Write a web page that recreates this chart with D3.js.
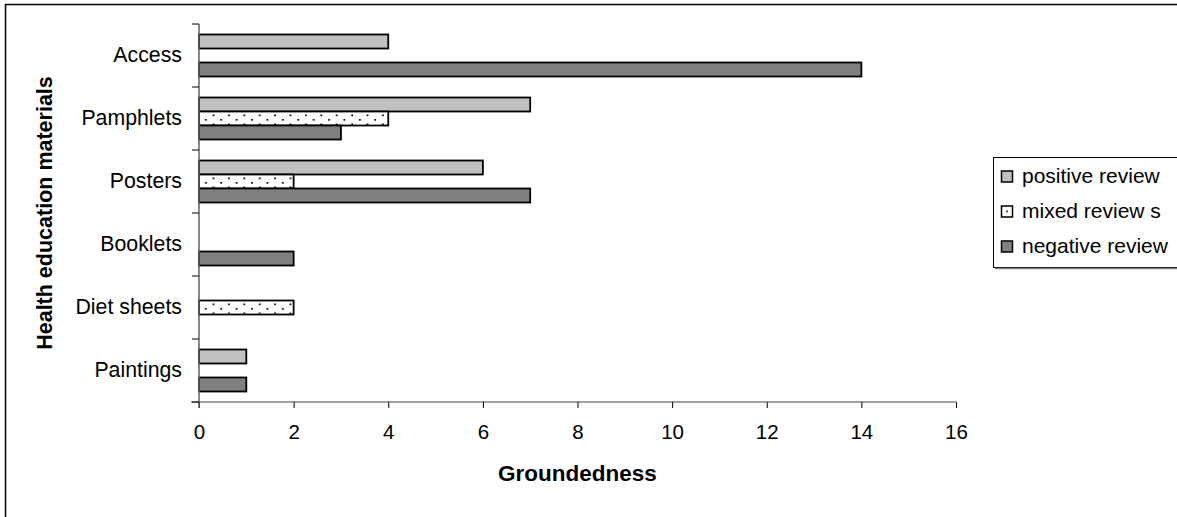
<!DOCTYPE html>
<html>
<head>
<meta charset="utf-8">
<script src="https://cdn.jsdelivr.net/npm/d3@7"></script>
<style>
  html, body { margin: 0; padding: 0; background: #fff; }
  svg { display: block; font-family: "Liberation Sans", Arial, sans-serif; }
</style>
</head>
<body>
<svg id="chart" width="1177" height="517"></svg>
<script>
// Categories, top to bottom
const categories = ["Access", "Pamphlets", "Posters", "Booklets", "Diet sheets", "Paintings"];
// Series (counts per category)
const positiveReview = [4, 7, 6, 0, 0, 1];
const mixedReviews   = [0, 4, 2, 0, 2, 0];
const negativeReview = [14, 3, 7, 2, 0, 1];
const seriesNames = ["positive review", "mixed review s", "negative review"];
const xTicks = [0, 2, 4, 6, 8, 10, 12, 14, 16];

const series = [positiveReview, mixedReviews, negativeReview];
const fills = ["#C0C0C0", "url(#dots)", "#808080"];

const svg = d3.select("#chart");

// dotted fill for mixed reviews
const defs = svg.append("defs");
const pat = defs.append("pattern").attr("id", "dots")
  .attr("patternUnits", "userSpaceOnUse").attr("width", 15.4).attr("height", 9)
  .attr("x", 199).attr("y", 0);
pat.append("rect").attr("width", 15.4).attr("height", 9).attr("fill", "#fff");
pat.append("rect").attr("x", 6).attr("y", 2).attr("width", 1.7).attr("height", 1.7).attr("fill", "#000");
pat.append("rect").attr("x", 13.7).attr("y", 6.5).attr("width", 1.7).attr("height", 1.7).attr("fill", "#000");

// outer chart frame
svg.append("rect").attr("x", 5.5).attr("y", 4.5).attr("width", 1180).attr("height", 520)
  .attr("fill", "none").attr("stroke", "#000").attr("stroke-width", 1.5);

const plot = { left: 199, right: 956, top: 24, bottom: 402 };

const x = d3.scaleLinear().domain([0, 16]).range([plot.left, plot.right]);
const y = d3.scaleBand().domain(categories).range([plot.top, plot.bottom])
  .paddingInner(1 / 3).paddingOuter(1 / 6);
const ySub = d3.scaleBand().domain(d3.range(series.length)).range([0, y.bandwidth()]);

// bars
const g = svg.append("g");
categories.forEach((c, i) => {
  series.forEach((s, k) => {
    if (s[i] <= 0) return;
    g.append("rect")
      .attr("x", x(0))
      .attr("y", y(c) + ySub(k))
      .attr("width", x(s[i]) - x(0))
      .attr("height", ySub.bandwidth())
      .attr("fill", fills[k])
      .attr("stroke", "#000")
      .attr("stroke-width", 1.8);
  });
});

// x axis
const xAxis = svg.append("g").attr("transform", `translate(0,${plot.bottom})`)
  .call(d3.axisBottom(x).tickValues(xTicks).tickSize(6).tickSizeOuter(0).tickPadding(0));
xAxis.select(".domain").attr("stroke", "#808080").attr("stroke-width", 1.5)
  .attr("d", `M${plot.left - 8},0H${plot.right}`);
xAxis.selectAll(".tick line").attr("stroke", "#000");
xAxis.selectAll(".tick text").attr("font-size", 20.5).attr("fill", "#000")
  .attr("dy", null).attr("y", 37);

// y axis: ticks at category boundaries
const yAxis = svg.append("g");
yAxis.append("line").attr("x1", plot.left).attr("x2", plot.left)
  .attr("y1", plot.top).attr("y2", plot.bottom + 6)
  .attr("stroke", "#606060").attr("stroke-width", 1.5);
const bounds = categories.map(c => y(c) - y.step() * y.paddingInner() / 2).concat([plot.bottom]);
yAxis.selectAll(".yt").data(bounds).join("line")
  .attr("x1", plot.left - 7).attr("x2", plot.left)
  .attr("y1", d => d).attr("y2", d => d)
  .attr("stroke", "#000").attr("stroke-width", 1);
yAxis.selectAll(".yl").data(categories).join("text")
  .attr("x", 182).attr("y", d => y(d) + y.bandwidth() / 2 + 6.5)
  .attr("text-anchor", "end")
  .attr("font-size", 21.3).attr("fill", "#000").text(d => d);

// axis titles
svg.append("text").attr("x", (plot.left + plot.right) / 2).attr("y", 481)
  .attr("text-anchor", "middle").attr("font-size", 22.5).attr("font-weight", "bold")
  .text("Groundedness");
svg.append("text")
  .attr("transform", `translate(52,${(plot.top + plot.bottom) / 2}) rotate(-90)`)
  .attr("text-anchor", "middle").attr("font-size", 21.5).attr("font-weight", "bold")
  .text("Health education materials");

// legend
const lg = svg.append("g");
lg.append("rect").attr("x", 993.5).attr("y", 157.5).attr("width", 190).attr("height", 110)
  .attr("fill", "#fff").attr("stroke", "#000").attr("stroke-width", 1);
lg.append("line").attr("x1", 995).attr("x2", 1177).attr("y1", 268.5).attr("y2", 268.5)
  .attr("stroke", "#808080").attr("stroke-width", 1.5);
const legendBase = [183, 218, 253];
seriesNames.forEach((n, k) => {
  lg.append("rect").attr("x", 1001.5).attr("y", legendBase[k] - 12).attr("width", 11).attr("height", 11)
    .attr("fill", k === 1 ? "#fff" : fills[k]).attr("stroke", "#000").attr("stroke-width", 1.5);
  if (k === 1) {
    lg.append("rect").attr("x", 1006.2).attr("y", legendBase[k] - 7.3).attr("width", 1.6).attr("height", 1.6)
      .attr("fill", "#000");
  }
  lg.append("text").attr("x", 1022).attr("y", legendBase[k])
    .attr("font-size", 21).attr("fill", "#000").text(n);
});
</script>
</body>
</html>
